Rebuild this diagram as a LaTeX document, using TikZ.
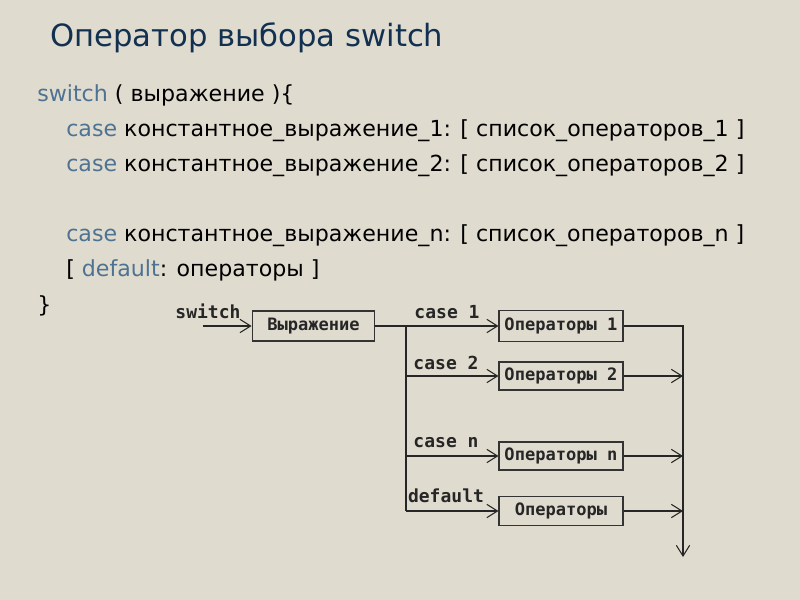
\documentclass[tikz,border=0pt]{standalone}
\usepackage{fontspec}
\setmainfont{DejaVu Sans}
\newfontfamily\dmono{DejaVu Sans Mono}
\usetikzlibrary{arrows.meta}
\definecolor{bg}{HTML}{E0DBCF}
\definecolor{titlec}{RGB}{18,48,80}
\definecolor{kwc}{RGB}{78,114,146}
\newcommand{\kw}[1]{\textcolor{kwc}{#1}}
\tikzset{
  codeline/.style={anchor=base west, inner sep=0pt, font=\fontsize{16.6pt}{18pt}\selectfont, text=black},
  dlabel/.style={inner sep=0pt, font=\dmono\bfseries\fontsize{13.5pt}{15pt}\selectfont, text=black!85},
  opbox/.style={draw=black!80, line width=0.8pt, minimum width=93pt, inner sep=0pt, font=\dmono\bfseries\fontsize{12.8pt}{15pt}\selectfont, text=black!85},
  conn/.style={draw=black!85, line width=0.8pt},
  arr/.style={conn, -{Straight Barb[length=8pt,width=10pt]}}
}
\begin{document}
\begin{tikzpicture}[x=0.75pt,y=-0.75pt]
\fill[bg] (0,0) rectangle (800,600);
\useasboundingbox (0,0) rectangle (800,600);
% title
\node[anchor=base west, inner sep=0pt, text=titlec, font=\fontsize{23pt}{26pt}\selectfont] (title) at (50,46) {Оператор выбора switch};
% code
\node[codeline] (l1) at (37,101) {\kw{switch} ( выражение )\{};
\node[codeline] (l2) at (66,136) {\kw{case} константное\_выражение\_1: [ список\_операторов\_1 ]};
\node[codeline] (l3) at (66,171) {\kw{case} константное\_выражение\_2: [ список\_операторов\_2 ]};
\node[codeline] (l4) at (66,241) {\kw{case} константное\_выражение\_n: [ список\_операторов\_n ]};
\node[codeline] (l5) at (66,276) {[ \kw{default}: операторы ]};
\node[codeline] (l6) at (37,312) {\}};
% diagram
\node[dlabel] (sw) at (208,311) {switch};
\node[opbox, minimum width=92pt, minimum height=22.5pt] (expr) at (313.5,326) {Выражение};
\node[opbox, minimum height=23pt] (op1) at (561,326) {Операторы 1};
\node[opbox, minimum height=21pt] (op2) at (561,376) {Операторы 2};
\node[opbox, minimum height=21pt] (opn) at (561,456) {Операторы n};
\node[opbox, minimum height=22pt] (opd) at (561,511) {Операторы};
\node[dlabel] (c1) at (447,312) {case 1};
\node[dlabel] (c2) at (446,363) {case 2};
\node[dlabel] (cn) at (446,443) {case n};
\node[dlabel] (cd) at (446,496) {default};
\coordinate (sin) at (203,326);
\coordinate (j1) at (406,326);
\coordinate (j2) at (406,376);
\coordinate (jn) at (406,456);
\coordinate (jd) at (406,511);
\coordinate (r1) at (683,326);
\coordinate (rend) at (683,557);
\draw[arr] (sin) -- (expr.west);
\draw[conn] (expr.east) -- (j1) -- (jd);
\draw[arr] (j1) -- (op1.west);
\draw[arr] (j2) -- (op2.west);
\draw[arr] (jn) -- (opn.west);
\draw[arr] (jd) -- (opd.west);
\draw[arr] (op1.east) -- (r1) -- (rend);
\draw[arr] (op2.east) -- (op2.east -| r1);
\draw[arr] (opn.east) -- (opn.east -| r1);
\draw[arr] (opd.east) -- (opd.east -| r1);
\end{tikzpicture}
\end{document}
